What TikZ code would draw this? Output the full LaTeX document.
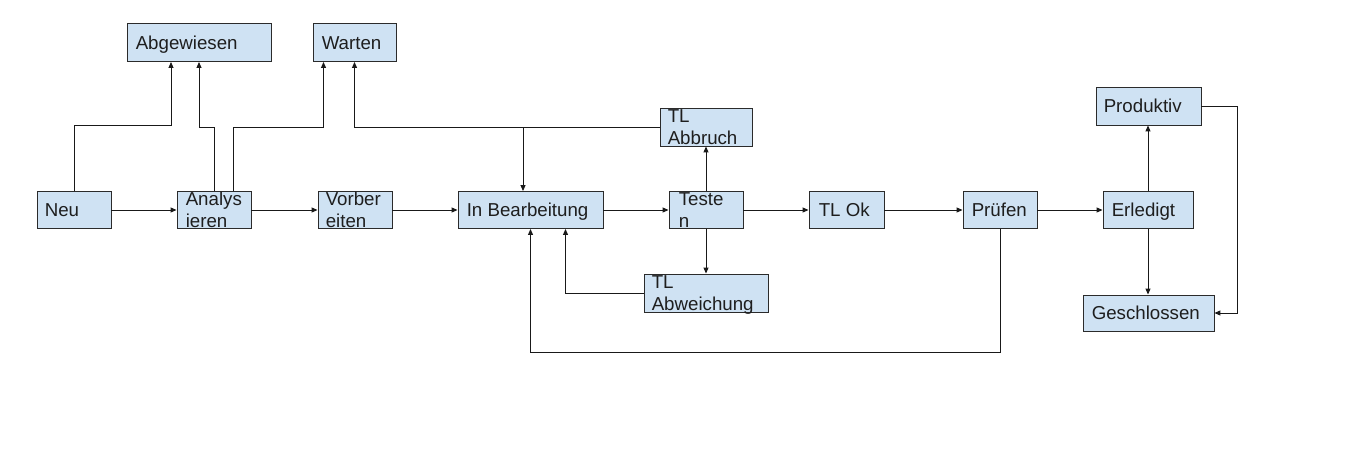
\documentclass[tikz,border=0pt]{standalone}
\usepackage{fontspec}
\setmainfont{Liberation Sans}
\usetikzlibrary{arrows.meta,positioning}
\definecolor{boxfill}{HTML}{CFE2F3}
\definecolor{boxline}{HTML}{2B2B2B}
\definecolor{txt}{HTML}{1E1E1E}
\begin{document}
\begin{tikzpicture}[x=1pt,y=-1pt,
  stbox/.style={draw=boxline,fill=boxfill,line width=0.9pt,minimum height=37pt,inner sep=0pt},
  lbl2/.style={anchor=west,inner sep=0pt,align=left,text=txt,font=\fontsize{18.7pt}{21.5pt}\selectfont},
  lbl/.style={lbl2,text height=13.4pt,text depth=0pt},
  arr/.style={draw=black!90,line width=1pt,-{Triangle[length=6pt,width=5pt]}}]
\useasboundingbox[fill=white] (0,0) rectangle (1371,469);
% boxes
\node[stbox,minimum width=144pt,minimum height=38pt] (abg) at (199,42.5) {};
\node[lbl] at ([xshift=9pt]abg.west) {Abgewiesen};
\node[stbox,minimum width=83pt,minimum height=38pt] (wart) at (354.5,42.5) {};
\node[lbl] at ([xshift=9pt]wart.west) {Warten};
\node[stbox,minimum width=74pt] (neu) at (74,210) {};
\node[lbl] at ([xshift=8pt]neu.west) {Neu};
\node[stbox,minimum width=74pt] (ana) at (214,210) {};
\node[lbl2] at ([xshift=9pt]ana.west) {Analys\\ieren};
\node[stbox,minimum width=74pt] (vor) at (355,210) {};
\node[lbl2] at ([xshift=8pt]vor.west) {Vorber\\eiten};
\node[stbox,minimum width=145pt] (inb) at (530.5,210) {};
\node[lbl] at ([xshift=9pt]inb.west) {In Bearbeitung};
\node[stbox,minimum width=74pt] (tes) at (706,210) {};
\node[lbl2] at ([xshift=10pt]tes.west) {Teste\\n};
\node[stbox,minimum width=92pt,minimum height=38pt] (abb) at (706,127) {};
\node[lbl2] at ([xshift=8pt]abb.west) {TL\\Abbruch};
\node[stbox,minimum width=124pt,minimum height=38pt] (abw) at (706,293) {};
\node[lbl2] at ([xshift=8pt]abw.west) {TL\\\smash{Abweichung}};
\node[stbox,minimum width=75pt] (tlok) at (846.5,210) {};
\node[lbl] at ([xshift=10pt]tlok.west) {TL Ok};
\node[stbox,minimum width=74pt] (pru) at (1000,210) {};
\node[lbl] at ([xshift=9pt]pru.west) {Prüfen};
\node[stbox,minimum width=90pt] (erl) at (1148,210) {};
\node[lbl] at ([xshift=9pt]erl.west) {Erledigt};
\node[stbox,minimum width=105pt,minimum height=38pt] (pro) at (1148.5,106) {};
\node[lbl] at ([xshift=8pt]pro.west) {Produktiv};
\node[stbox,minimum width=131pt,minimum height=36pt] (ges) at (1148.5,313) {};
\node[lbl] at ([xshift=9pt]ges.west) {Geschlossen};
% helper coordinates
\coordinate (yA) at (0,125);
\coordinate (yB) at (0,127);
\coordinate (yC) at (0,352);
\coordinate (xR) at (1237,0);
\coordinate (abgL) at ([xshift=-28pt]abg.south);
\coordinate (wartL) at ([xshift=-31pt]wart.south);
\coordinate (anaR) at ([xshift=19pt]ana.north);
\coordinate (inbT) at ([xshift=-7.5pt]inb.north);
\coordinate (inbB) at ([xshift=35pt]inb.south);
% connectors
\draw[arr] (neu.north) |- (abgL |- yA) -- (abgL);
\draw[arr] (ana.north) |- (abg.south |- yB) -- (abg.south);
\draw[arr] (anaR) |- (wartL |- yB) -- (wartL);
\draw[arr] (abb.west) -| (wart.south);
\draw[arr] (inbT |- abb.west) -- (inbT);
\draw[arr] (neu.east) -- (ana.west);
\draw[arr] (ana.east) -- (vor.west);
\draw[arr] (vor.east) -- (inb.west);
\draw[arr] (inb.east) -- (tes.west);
\draw[arr] (tes.east) -- (tlok.west);
\draw[arr] (tlok.east) -- (pru.west);
\draw[arr] (pru.east) -- (erl.west);
\draw[arr] (tes.north) -- (abb.south);
\draw[arr] (tes.south) -- (abw.north);
\draw[arr] (abw.west) -| (inbB);
\draw[arr] (pru.south) -- (pru.south |- yC) -| (inb.south);
\draw[arr] (erl.north) -- (erl.north |- pro.south);
\draw[arr] (erl.south) -- (erl.south |- ges.north);
\draw[arr] (pro.east) -- (xR |- pro.east) |- (ges.east);
\end{tikzpicture}
\end{document}
